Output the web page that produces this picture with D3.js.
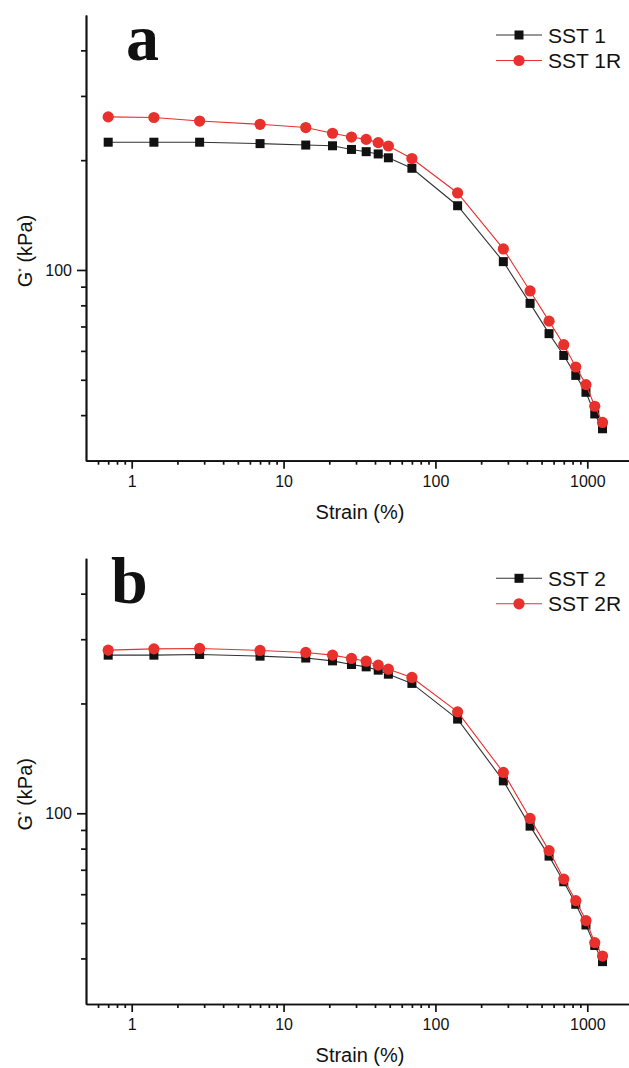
<!DOCTYPE html>
<html>
<head>
<meta charset="utf-8">
<script src="https://cdn.jsdelivr.net/npm/d3@7"></script>
<style>
  body { margin: 0; background: #fff; }
  svg { display: block; font-family: "Liberation Sans", Arial, sans-serif; }
  .axis path, .axis line { stroke: #111; stroke-width: 1.7px; }
  .axis text { font-size: 16px; fill: #111; font-family: "Liberation Sans", Arial, sans-serif; }
</style>
</head>
<body>
<div id="vis"></div>
<script>
// strain values (%) shared by all four series
const strain = [0.7, 1.4, 2.8, 7, 14, 21, 28, 35, 42, 49, 70, 140, 280, 420, 560, 700, 840, 980, 1120, 1260];
// G* (kPa)
const sst1  = [224, 224, 224, 222, 220, 219, 214, 211, 208, 203, 190, 150, 105.4, 81, 66.9, 58.3, 51.4, 46.2, 40.3, 36.7];
const sst1R = [262.8, 261.8, 256, 250.8, 245.7, 237, 231.4, 228, 223.4, 218.7, 202, 162.6, 114.2, 87.6, 72.4, 62.4, 54.2, 48.5, 42.3, 38.2];
const sst2  = [271.3, 271.3, 272.5, 269.6, 266.4, 261.7, 255.8, 252, 246.8, 240.6, 227, 181.2, 122.7, 92.2, 76.3, 64.9, 56.3, 49.4, 43.4, 39.2];
const sst2R = [280, 282.3, 283, 279.5, 276, 271.3, 265.7, 261.2, 254.7, 248.3, 235.7, 189.7, 129.4, 96.8, 79, 66, 57.6, 50.8, 44.2, 40.6];

const xMajor = [1, 10, 100, 1000];
const xMinor = [0.6, 0.7, 0.8, 0.9, 2, 3, 4, 5, 6, 7, 8, 9, 20, 30, 40, 50, 60, 70, 80, 90, 200, 300, 400, 500, 600, 700, 800, 900];
const yMajor = [100];
const yMinor = [40, 50, 60, 70, 80, 90, 200, 300, 400];

const _w = 629, _h = 1068;
const RED = '#e8302c', BLACK = '#111';

const svg = d3.select('#vis').append('svg')
    .attr('width', _w)
    .attr('height', _h);

const x = d3.scaleLog().domain([0.5, 2000]).range([86, 633]);

function drawPanel(top, letter, letterX, names, blackVals, redVals) {
  const bottom = top + 445.7;
  const y = d3.scaleLog().domain([30, 500]).range([bottom, top]);
  const g = svg.append('g');

  // axes: minor ticks first, then majors with labels
  g.append('g').attr('class', 'axis')
    .attr('transform', `translate(0,${bottom})`)
    .call(d3.axisBottom(x).tickValues(xMinor).tickSize(4).tickSizeOuter(0).tickFormat(''));
  g.append('g').attr('class', 'axis')
    .attr('transform', `translate(0,${bottom})`)
    .call(d3.axisBottom(x).tickValues(xMajor).tickSize(8).tickSizeOuter(0).tickPadding(7).tickFormat(d3.format('d')));

  g.append('g').attr('class', 'axis')
    .attr('transform', 'translate(86,0)')
    .call(d3.axisLeft(y).tickValues(yMinor).tickSize(5).tickSizeOuter(0).tickFormat(''));
  g.append('g').attr('class', 'axis')
    .attr('transform', 'translate(86,0)')
    .call(d3.axisLeft(y).tickValues(yMajor).tickSize(9).tickSizeOuter(0).tickPadding(5).tickFormat(d3.format('d')));

  // axis titles
  g.append('text')
    .attr('x', 360).attr('y', bottom + 58)
    .attr('text-anchor', 'middle')
    .style('font-size', '20px').style('fill', BLACK)
    .text('Strain (%)');

  const yt = g.append('text')
    .attr('transform', `translate(32,${top + 236}) rotate(-90)`)
    .attr('text-anchor', 'middle')
    .style('font-size', '20px').style('fill', BLACK);
  yt.append('tspan').text('G');
  yt.append('tspan').attr('dy', -8).style('font-size', '9px').text('*');
  yt.append('tspan').attr('dy', 8).text(' (kPa)');

  // panel letter
  g.append('text')
    .attr('x', letterX).attr('y', top + 45)
    .style('font-family', '"Liberation Serif", "Times New Roman", serif')
    .style('font-weight', 'bold').style('font-size', '66px')
    .style('fill', BLACK)
    .text(letter);

  const line = d3.line()
    .x((d, i) => x(strain[i]))
    .y(d => y(d));

  // black series with squares
  g.append('path').datum(blackVals)
    .attr('d', line).attr('fill', 'none')
    .attr('stroke', '#333').attr('stroke-width', 1.1);
  g.selectAll('.sq').data(blackVals).enter().append('rect')
    .attr('class', 'sq')
    .attr('x', (d, i) => x(strain[i]) - 4.5)
    .attr('y', d => y(d) - 4.5)
    .attr('width', 9).attr('height', 9)
    .attr('fill', BLACK);

  // red series with circles
  g.append('path').datum(redVals)
    .attr('d', line).attr('fill', 'none')
    .attr('stroke', RED).attr('stroke-width', 1.1);
  g.selectAll('.ci').data(redVals).enter().append('circle')
    .attr('class', 'ci')
    .attr('cx', (d, i) => x(strain[i]))
    .attr('cy', d => y(d))
    .attr('r', 5.6)
    .attr('fill', RED);

  // legend
  const lg = g.append('g').attr('transform', `translate(496,${top + 20})`);
  [[names[0], '#333', 'sq'], [names[1], RED, 'ci']].forEach((s, k) => {
    const row = lg.append('g').attr('transform', `translate(0,${k * 25.5})`);
    row.append('line').attr('x1', 0).attr('x2', 46).attr('y1', 0).attr('y2', 0)
      .attr('stroke', s[1]).attr('stroke-width', 1.1);
    if (s[2] === 'sq') {
      row.append('rect').attr('x', 23 - 4.5).attr('y', -4.5).attr('width', 9).attr('height', 9).attr('fill', BLACK);
    } else {
      row.append('circle').attr('cx', 23).attr('cy', 0).attr('r', 5.6).attr('fill', RED);
    }
    row.append('text').attr('x', 52).attr('y', 0).attr('dy', '0.36em')
      .style('font-size', '21px').style('fill', BLACK)
      .text(s[0]);
  });
}

drawPanel(15, 'a', 126, ['SST 1', 'SST 1R'], sst1, sst1R);
drawPanel(558.3, 'b', 111, ['SST 2', 'SST 2R'], sst2, sst2R);
</script>
</body>
</html>
